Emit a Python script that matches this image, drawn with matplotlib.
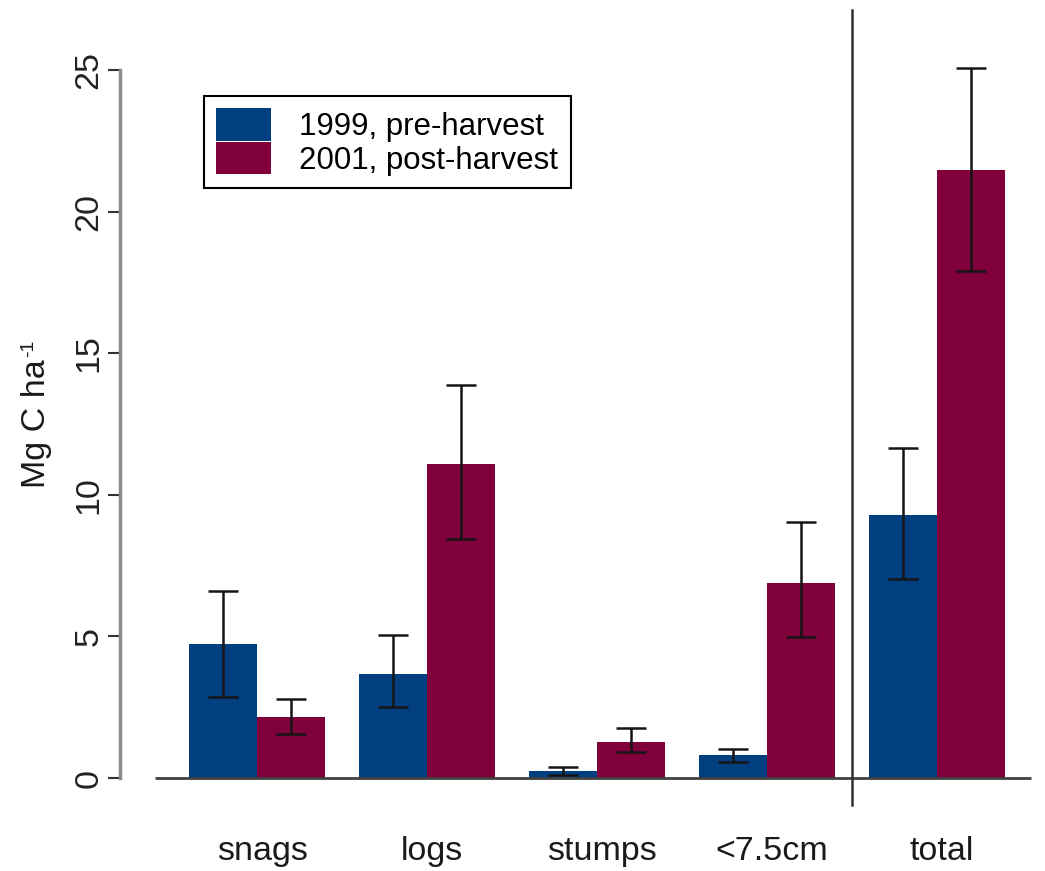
import matplotlib
matplotlib.use("Agg")
import matplotlib.pyplot as plt
import matplotlib.transforms as mtransforms
from matplotlib.patches import Patch
import numpy as np

plt.rcParams['font.family'] = ['Liberation Sans', 'DejaVu Sans']

categories = ["snags", "logs", "stumps", "<7.5cm", "total"]
pre_vals = [4.72, 3.68, 0.25, 0.81, 9.29]
pre_lo = [2.85, 2.50, 0.12, 0.57, 7.03]
pre_hi = [6.60, 5.04, 0.38, 1.01, 11.64]
post_vals = [2.17, 11.10, 1.28, 6.87, 21.45]
post_lo = [1.55, 8.44, 0.92, 4.97, 17.90]
post_hi = [2.78, 13.88, 1.75, 9.05, 25.08]
series_labels = ["1999, pre-harvest", "2001, post-harvest"]
yticks = [0, 5, 10, 15, 20, 25]

blue = "#013f80"
red = "#80003b"

W, H = 1045, 871
fig = plt.figure(figsize=(W / 100, H / 100), dpi=100)
ax = fig.add_axes([120 / W, (H - 805) / H, (W - 120) / W, 805 / H])

x = np.arange(len(categories))
bw = 0.4
pre = np.array(pre_vals); post = np.array(post_vals)
pre_err = [pre - np.array(pre_lo), np.array(pre_hi) - pre]
post_err = [post - np.array(post_lo), np.array(post_hi) - post]

ax.bar(x - bw / 2, pre, bw, color=blue, zorder=2, label=series_labels[0])
ax.bar(x + bw / 2, post, bw, color=red, zorder=2, label=series_labels[1])
ekw = dict(fmt="none", ecolor="#151515", elinewidth=1.8, capsize=10.5, capthick=1.8, zorder=3)
ax.errorbar(x - bw / 2, pre, yerr=pre_err, **ekw)
ax.errorbar(x + bw / 2, post, yerr=post_err, **ekw)

# baseline and separator
ax.plot([-0.6, 4.55], [0, 0], color="#404040", lw=2, zorder=4, solid_capstyle="butt")
ax.plot([3.5, 3.5], [27.1, -0.953], color="#303030", lw=1.8, zorder=4, clip_on=False)

ax.set_xlim(-0.806, 4.635)
ax.set_ylim(-0.953, 27.47)

for s in ["top", "right", "bottom"]:
    ax.spines[s].set_visible(False)
ax.spines["left"].set_bounds(0, 25)
ax.spines["left"].set_color("#8a8a8a")
ax.spines["left"].set_linewidth(2.5)

ax.set_yticks(yticks)
ax.set_yticklabels([str(t) for t in yticks], rotation=90, va="center", fontsize=24.5, color="#222222")
ax.tick_params(axis="y", length=9, width=1.5, color="#333333", pad=2)
ax.set_xticks([])

xtrans = mtransforms.blended_transform_factory(ax.transData, fig.transFigure)
for xi, c in zip(x, categories):
    ax.text(xi + 0.03, 11 / H, c, transform=xtrans,
            ha="center", va="baseline", fontsize=24.5, color="#1a1a1a")

# y-axis label with a small raised "-1"
fig.text(45 / W, 1 - 488 / H, "Mg C ha", rotation=90, rotation_mode="anchor",
         ha="left", va="baseline", fontsize=24.5, color="#1a1a1a")
fig.text(33 / W, 1 - 357 / H, "-1", rotation=90, rotation_mode="anchor",
         ha="left", va="baseline", fontsize=14, color="#1a1a1a")

handles = [Patch(facecolor=blue, edgecolor="none"), Patch(facecolor=red, edgecolor="none")]
leg = ax.legend(handles, series_labels, loc="upper left",
                bbox_to_anchor=(204 / W, 1 - 96 / H), bbox_transform=fig.transFigure,
                borderaxespad=0, fancybox=False, framealpha=1, edgecolor="black",
                fontsize=22.5, labelspacing=0, handleheight=1.2, handlelength=1.75,
                handletextpad=0.9, borderpad=0.4)
leg.get_frame().set_linewidth(1.5)

fig.savefig("out.png", dpi=100)
